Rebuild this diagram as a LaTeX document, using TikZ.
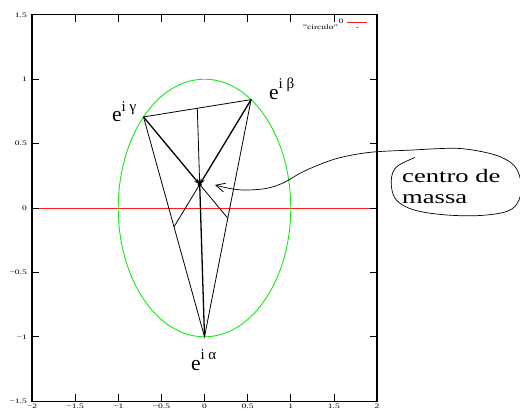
\documentclass[tikz,border=0pt]{standalone}
\usepackage{fontspec}
\setmainfont{Liberation Serif}
\usetikzlibrary{arrows.meta}
\definecolor{circgreen}{RGB}{20,235,20}
\definecolor{plotred}{RGB}{255,30,30}
\newcommand{\mytick}[1]{\scalebox{1.4}[1]{#1}}
\newcommand{\elab}[1]{{\fontsize{21.5}{21.5}\selectfont e}\raisebox{10.5pt}{\fontsize{15}{15}\selectfont i #1}}
\begin{document}
\begin{tikzpicture}[x=1pt,y=-1pt,
  ticklab/.style={inner sep=0pt, font=\fontsize{6.8}{7}\selectfont},
  tickmark/.style={line width=0.7pt},
  frameline/.style={line width=1.2pt},
  edge/.style={line width=0.8pt},
  median/.style={line width=0.8pt},
  tovertex/.style={line width=1.3pt},
  arr/.style={-{Stealth[length=6pt,width=4.5pt]}},
  elabel/.style={anchor=base west, inner sep=0pt},
  callout/.style={line width=0.7pt, -{Straight Barb[length=9pt,width=9pt,line width=0.8pt]}}]
\path[use as bounding box] (0,0) rectangle (520,408);
\begin{scope}[shift={(204.5,208)}]
\begin{scope}[x=86.25pt,y=128.8pt]
  % axis line y=0 and circle
  \draw[plotred, line width=0.8pt] (-2,0) -- (2,0);
  \draw[circgreen, line width=0.9pt] (0,0) ellipse [x radius=86.25pt, y radius=128.8pt];
  % frame and ticks
  \draw[frameline] (-2,-1.5) rectangle (2,1.5);
  \foreach \v in {-1.5,-1,-0.5,0,0.5,1,1.5}{
    \draw[tickmark] (\v,-1.5) -- ++(0pt,7pt);
    \draw[tickmark] (\v,1.5) -- ++(0pt,-7pt);
  }
  \foreach \v in {-1,-0.5,0,0.5,1}{
    \draw[tickmark] (-2,\v) -- ++(7pt,0pt);
    \draw[tickmark] (2,\v) -- ++(-7pt,0pt);
  }
  \foreach \v/\t in {-2/−2,-1.5/−1.5,-1/−1,-0.5/−0.5,0/0,0.5/0.5,1/1,1.5/1.5,2/2}{
    \node[ticklab, anchor=north, yshift=-2.5pt] (xl\v) at (\v,-1.5) {\mytick{\t}};
  }
  \foreach \v/\t in {-1.5/−1.5,-1/−1,-0.5/−0.5,0/0,0.5/0.5,1/1,1.5/1.5}{
    \node[ticklab, anchor=east, xshift=-5pt] (yl\v) at (-2,\v) {\mytick{\t}};
  }
  % triangle vertices
  \coordinate (A) at (0,-1);
  \coordinate (B) at (0.5403,0.8415);
  \coordinate (C) at (-0.7071,0.7071);
  \coordinate (G) at (-0.0556,0.1829);
  \coordinate (Mab) at (0.2702,-0.0793);
  \coordinate (Mbc) at (-0.0834,0.7743);
  \coordinate (Mca) at (-0.3536,-0.1464);
  \draw[edge] (C) -- (B) -- (A) -- cycle;
  \draw[median] (Mbc) -- (G);
  \draw[median] (G) -- (Mab);
  \draw[median] (G) -- (Mca);
  \draw[tovertex] (A) -- (G);
  \draw[tovertex, arr] (C) -- (G);
  \draw[tovertex, arr] (B) -- (G);
  \fill (G) circle[radius=2pt];
\end{scope}
\end{scope}
% vertex labels
\node[elabel] (labg) at (112,121.7) {\elab{γ}};
\node[elabel] (labb) at (269,99.3) {\elab{β}};
\node[elabel] (laba) at (190.8,370) {\elab{α}};
% legend
\node[ticklab, anchor=east] (leg0) at (343.5,21.5) {\mytick{0}};
\node[ticklab, anchor=east] (leg1) at (338,27) {\mytick{"circulo"}};
\draw[plotred, line width=0.8pt] (347,22.3) -- (367,22.3);
\draw[circgreen, line width=0.8pt] (356,27.5) -- (358.5,27.5);
% callout
\node[anchor=base west, inner sep=0pt] (cm) at (402,182.3)
  {\fontsize{19}{21}\selectfont\scalebox{1.4}[1]{\begin{tabular}[t]{@{}l@{}}centro de\\massa\end{tabular}}};
\coordinate (tip) at (215,185);
\draw[callout] plot[smooth, tension=0.6] coordinates {
  (415,157.5) (397,166.5) (391.5,178) (393,194) (401,204) (418,211) (447,215)
  (480,215.5) (508,211) (519,200) (521,183) (516,168) (505,159) (488,153)
  (460,148.5) (430,149) (413,150) (377,151.7) (355,154.5) (335,159) (316,166)
  (300,173.3) (283,183) (266,188.5) (245,190) (230,188.5) (tip)};
\end{tikzpicture}
\end{document}
